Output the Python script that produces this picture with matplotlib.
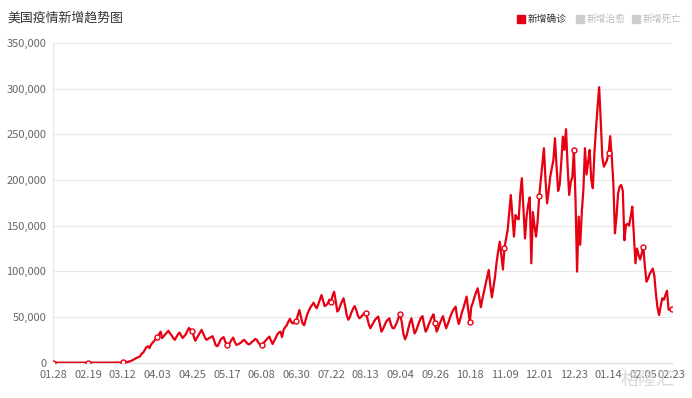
import numpy as np
import matplotlib
matplotlib.use("Agg")
import matplotlib.pyplot as plt
from matplotlib.patches import Rectangle

plt.rcParams['font.family'] = ['Noto Sans CJK SC', 'DejaVu Sans']

# daily new confirmed cases, 2020-01-28 onwards
cases_jan_feb = [0, 0, 0, 1, 0, 1, 0, 1, 0, 0, 0, 1, 0, 0, 0, 0, 1, 0, 0, 0, 0, 0, 0, 0, 0, 14, 0, 0, 0, 0, 1, 3, 2]
cases_early_mar = [8, 7, 23, 19, 33, 77, 53, 166, 116, 75, 300, 351, 511, 777, 823]
cases_late_mar = [1200, 1800, 2500, 3500, 4500, 5500, 6000, 7000, 10000, 11000, 14000, 17000, 18000, 16000,
                  20000, 22000, 24000, 26000, 28000]
cases_apr_jun = [31000, 34000, 27000, 29000, 31000, 33000, 35000, 32000, 30000, 27000,
                 25000, 28000, 31000, 33000, 30000, 27000, 29000, 31000, 35000, 38000,
                 36000, 35000, 29000, 24000, 27000, 30000, 33000, 36000, 32000, 28000,
                 25000, 26000, 27000, 28000, 29000, 24000, 19000, 18000, 21000, 25000,
                 27000, 28000, 23000, 19500, 20000, 22000, 25000, 27500, 23000, 19500,
                 20000, 21000, 22000, 24000, 25000, 23000, 21000, 20000, 21000, 23000,
                 24000, 26000, 25000, 22000, 20000, 19500, 21000, 23000, 25000, 27000,
                 28500, 24000, 20500, 24000, 27000, 31000, 33000, 34000, 28000, 36000,
                 39000, 41000, 45000, 48000, 44000, 43000, 45000]
cases_summer = [46000, 52000, 57700, 50000, 43000, 41000, 47000, 53000, 57000, 60600,
                63000, 65700, 62000, 59600, 64000, 69000, 74000, 68000, 62000, 63000,
                65000, 69000, 66800, 73000, 77700, 68000, 56000, 58000, 63000, 67000,
                70500, 62000, 52000, 47000, 50000, 55000, 59000, 62000, 58000, 52000,
                48600, 50000, 52000, 54000, 54800, 49000, 42000, 37700, 41000, 44000,
                47000, 49000, 50400, 42000, 34000, 37000, 41000, 45000, 47000, 48600,
                42000, 38000, 37700, 41000, 45000, 50000, 53000, 43000, 31000, 25600,
                30000, 37000, 44000, 48600, 40000, 32000, 35000, 40000, 45000, 49000,
                51000, 42000, 34000, 37000, 42000, 46000, 50000, 53000, 43000, 34000,
                38000, 43000, 47000, 51000, 44000, 37700, 42000, 47000, 52000, 56000,
                59000, 61300, 50000, 42400, 48000, 55000, 60000, 66000, 72300, 58000, 45000]
cases_winter = [61300, 66000, 72000, 77000, 81500, 72000, 60700, 70000, 78000, 86000,
                94000, 101500, 85000, 71600, 83000, 94000, 110000, 122000, 132500, 118000,
                102000, 126000, 136000, 145000, 165000, 183600, 160000, 138000, 161700, 158000,
                157000, 185000, 202000, 170000, 136000, 160000, 172700, 181000, 108800, 165000,
                150000, 138000, 155000, 182500, 200000, 218000, 234800, 200000, 174500, 188000,
                203700, 213000, 222000, 245700, 215000, 188000, 195000, 220000, 247500, 233000,
                255600, 215000, 183600, 198000, 203000, 233000, 180000, 99700, 160000, 129000,
                165000, 189000, 234800, 206000, 220000, 233000, 200000, 191000, 230000, 256000,
                280000, 301700, 265000, 225000, 214600, 218000, 222000, 230000, 248000, 225000,
                196500, 141700, 160000, 185000, 193000, 194600, 188000, 134000, 151000, 152000,
                150000, 160000, 170800, 140000, 108800, 125000, 118000, 113000, 120000, 126700,
                105000, 88700, 92000, 97000, 100000, 103000, 95000, 75000, 60000, 52200,
                62000, 70500, 69000, 74000, 78800, 58000, 58500, 59000]

cases = np.array(cases_jan_feb + cases_early_mar + cases_late_mar + cases_apr_jun + cases_summer + cases_winter)

date_labels = ['01.28', '02.19', '03.12', '04.03', '04.25', '05.17', '06.08', '06.30', '07.22', '08.13',
               '09.04', '09.26', '10.18', '11.09', '12.01', '12.23', '01.14', '02.05', '02.23']
label_step = 22
y_ticks = [0, 50000, 100000, 150000, 200000, 250000, 300000, 350000]

legend_names = ['新增确诊', '新增治愈', '新增死亡']
legend_colors = ['#e60012', '#cccccc', '#cccccc']
legend_text_colors = ['#333333', '#bbbbbb', '#bbbbbb']

x = np.arange(len(cases))
tick_pos = list(range(0, len(cases) - 10, label_step)) + [len(cases) - 1]

fig = plt.figure(figsize=(6.92, 3.98), dpi=100)
ax = fig.add_axes([0.077, 0.0887, 0.8937, 0.8033])

red = '#e60012'
ax.plot(x, cases, color=red, lw=1.6, solid_joinstyle='round', zorder=3)
ax.plot(tick_pos, cases[tick_pos], ls='none', marker='o', ms=3.6, mfc='white', mec=red, mew=1.0, zorder=4)

ax.set_xlim(0, len(cases) - 1)
ax.set_ylim(0, 350000)
ax.set_yticks(y_ticks)
ax.set_yticklabels(['{:,}'.format(v) for v in y_ticks])
ax.set_xticks(tick_pos)
ax.set_xticklabels(date_labels)
ax.grid(axis='y', color='#e8e8e8', lw=0.9, zorder=0)
ax.tick_params(length=0, labelsize=8, colors='#666666', pad=5)
for s in ['top', 'right']:
    ax.spines[s].set_visible(False)
ax.spines['left'].set_color('#e8e8e8')
ax.spines['bottom'].set_color('#dddddd')
ax.spines['left'].set_linewidth(0.9)
ax.spines['bottom'].set_linewidth(0.9)

fig.text(0.011, 0.955, '美国疫情新增趋势图', fontsize=9.3, color='#333333', va='center')

# legend drawn by hand, echarts style
lx = [517, 576, 632]
for i in range(3):
    fig.patches.append(Rectangle((lx[i] / 692, 0.943), 8 / 692, 8 / 398, transform=fig.transFigure,
                                 color=legend_colors[i]))
    fig.text((lx[i] + 11) / 692, 0.953, legend_names[i], fontsize=7, color=legend_text_colors[i], va='center')

# watermark
fig.text(0.975, 0.045, '格隆汇', fontsize=13, color='#d0d0d0', alpha=0.8, ha='right', va='center', zorder=10)

fig.savefig('out.png', dpi=100)
